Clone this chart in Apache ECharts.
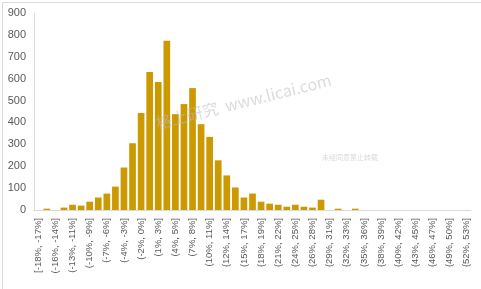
<!DOCTYPE html>
<html><head><meta charset="utf-8">
<script src="https://cdn.jsdelivr.net/npm/echarts@6/dist/echarts.min.js"></script>
<style>html,body{margin:0;padding:0;background:#fff}#c{width:481px;height:289px}</style>
</head><body><div id="c"></div>
<script>
const categories = [
 '[-18%, -17%]','(-17%, -16%]','(-16%, -14%]','(-14%, -13%]','(-13%, -11%]','(-11%, -10%]',
 '(-10%, -9%]','(-9%, -7%]','(-7%, -6%]','(-6%, -4%]','(-4%, -3%]','(-3%, -2%]',
 '(-2%, 0%]','(0%, 1%]','(1%, 3%]','(3%, 4%]','(4%, 5%]','(5%, 7%]',
 '(7%, 8%]','(8%, 10%]','(10%, 11%]','(11%, 12%]','(12%, 14%]','(14%, 15%]',
 '(15%, 17%]','(17%, 18%]','(18%, 19%]','(19%, 21%]','(21%, 22%]','(22%, 24%]',
 '(24%, 25%]','(25%, 26%]','(26%, 28%]','(28%, 29%]','(29%, 31%]','(31%, 32%]',
 '(32%, 33%]','(33%, 35%]','(35%, 36%]','(36%, 38%]','(38%, 39%]','(39%, 40%]',
 '(40%, 42%]','(42%, 43%]','(43%, 45%]','(45%, 46%]','(46%, 47%]','(47%, 49%]',
 '(49%, 50%]','(50%, 52%]','(52%, 53%]'
];
const counts = [
 0, 6, 0, 11, 24, 20, 38, 57, 75, 107, 194, 305,
 443, 631, 585, 773, 438, 484, 557, 392, 334, 227, 158, 103,
 57, 75, 38, 29, 24, 15, 24, 15, 11, 47, 0, 6,
 0, 6, 0, 0, 0, 0, 0, 0, 0, 0, 0, 0,
 0, 0, 0
];
const yTicks = { min: 0, max: 900, step: 100 };
const watermarkMain = '格上研究  www.licai.com';
const watermarkSmall = '未经同意禁止转载';

const chart = echarts.init(document.getElementById('c'), null, {renderer: 'canvas'});
chart.setOption({
  animation: false,
  backgroundColor: '#ffffff',
  grid: { left: 34, right: 10, top: 13, bottom: 79 },
  xAxis: {
    type: 'category',
    data: categories,
    axisLine: { show: true, lineStyle: { color: '#d9d9d9', width: 1 } },
    axisTick: { show: false },
    axisLabel: {
      interval: 1, rotate: 90, color: '#595959', fontSize: 9.5,
      fontFamily: 'Liberation Sans, Arial, sans-serif', margin: 8
    },
    splitLine: { show: false }
  },
  yAxis: {
    type: 'value', min: yTicks.min, max: yTicks.max, interval: yTicks.step,
    axisLine: { show: true, lineStyle: { color: '#d9d9d9', width: 1 } },
    axisTick: { show: false },
    splitLine: { show: false },
    axisLabel: { color: '#595959', fontSize: 11, fontFamily: 'Liberation Sans, Arial, sans-serif', margin: 8 }
  },
  series: [{
    type: 'bar', data: counts, barCategoryGap: '22%',
    itemStyle: { color: '#CC9900' }, z: 2
  }],
  graphic: [
    { type: 'rect', left: 0, top: 0, z: 100, silent: true,
      shape: { x: 0.5, y: 0.5, width: 479, height: 287 },
      style: { fill: 'none', stroke: '#d9d9d9', lineWidth: 1 } },
    { type: 'text', z: 50, silent: true, x: 158, y: 131, rotation: 14 * Math.PI / 180,
      style: { text: watermarkMain, font: '16px "Noto Sans CJK SC", "Liberation Sans", sans-serif',
        fill: 'rgba(190,190,190,0.55)', textVerticalAlign: 'bottom' } },
    { type: 'text', z: 50, silent: true, x: 322, y: 154,
      style: { text: watermarkSmall, font: '7px "Noto Sans CJK SC", sans-serif',
        fill: 'rgba(200,200,200,0.7)' } }
  ]
});
</script></body></html>
